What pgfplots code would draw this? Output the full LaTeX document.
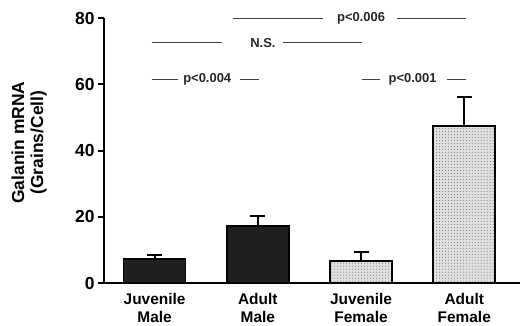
\documentclass[border=0pt]{standalone}
\usepackage{fontspec}
\setmainfont{Liberation Sans}
\usepackage{pgfplots}
\pgfplotsset{compat=1.18}
\usetikzlibrary{patterns}
\begin{document}
\begin{tikzpicture}
\begin{axis}[
  scale only axis, width=416bp, height=265bp,
  xmin=-0.49, xmax=3.54, ymin=0, ymax=80,
  axis x line=bottom, axis y line=left,
  axis line style={line width=2bp,-},
  ytick={0,20,40,60,80},
  xtick={0,1,2,3},
  xticklabels={{Juvenile\\Male},{Adult\\Male},{Juvenile\\Female},{Adult\\Female}},
  xticklabel style={align=center, font=\fontsize{15.5}{17.5}\selectfont\bfseries, yshift=-1bp},
  xtick style={draw=none},
  ytick style={line width=2bp, black},
  tick align=outside, major tick length=6bp,
  yticklabel style={font=\fontsize{17.5}{17.5}\selectfont\bfseries},
  /pgf/number format/assume math mode=true,
  ylabel={Galanin mRNA\\(Grains/Cell)},
  ylabel style={align=center, font=\fontsize{17.5}{19}\selectfont\bfseries, at={(axis description cs:-0.18,0.53)}, anchor=center},
  clip=false,
]
\addplot[ybar, bar shift=0pt, bar width=0.6, fill=black!88, draw=black, line width=1.5bp,
  error bars/.cd, y dir=plus, y explicit,
  error bar style={line width=2bp, black},
  error mark options={rotate=90, mark size=7.5bp, line width=2bp, black}]
  coordinates {(0,7.3) +- (0,1.2) (1,17.2) +- (0,3.0)};
\addplot[ybar, bar shift=0pt, bar width=0.6, fill=black!12, draw=black, line width=1.8bp,
  postaction={pattern=dots, pattern color=black!60},
  error bars/.cd, y dir=plus, y explicit,
  error bar style={line width=2bp, black},
  error mark options={rotate=90, mark size=7.5bp, line width=2bp, black}]
  coordinates {(2,6.6) +- (0,2.8) (3,47.4) +- (0,8.8)};
% significance annotations
\tikzset{sig/.style={black!75, line width=0.9bp}, siglab/.style={font=\fontsize{13}{13}\selectfont\bfseries, text=black!85}}
\draw[sig] (axis cs:0.759,80) -- (axis cs:1.63,80);
\draw[sig] (axis cs:2.35,80) -- (axis cs:3.02,80);
\node[siglab] at (axis cs:2.0,80) {p<0.006};
\draw[sig] (axis cs:-0.025,72.5) -- (axis cs:0.652,72.5);
\draw[sig] (axis cs:1.24,72.5) -- (axis cs:2.01,72.5);
\node[siglab] at (axis cs:1.05,72.5) {N.S.};
\draw[sig] (axis cs:-0.025,61.6) -- (axis cs:0.226,61.6);
\draw[sig] (axis cs:0.827,61.6) -- (axis cs:1.01,61.6);
\node[siglab] at (axis cs:0.51,61.6) {p<0.004};
\draw[sig] (axis cs:2.01,61.6) -- (axis cs:2.18,61.6);
\draw[sig] (axis cs:2.83,61.6) -- (axis cs:3.02,61.6);
\node[siglab] at (axis cs:2.50,61.6) {p<0.001};
\end{axis}
\pgfresetboundingbox
\path[use as bounding box] ([shift={(-104bp,-43bp)}]current axis.south west) rectangle ([shift={(416bp,283bp)}]current axis.south west);
\end{tikzpicture}
\end{document}
